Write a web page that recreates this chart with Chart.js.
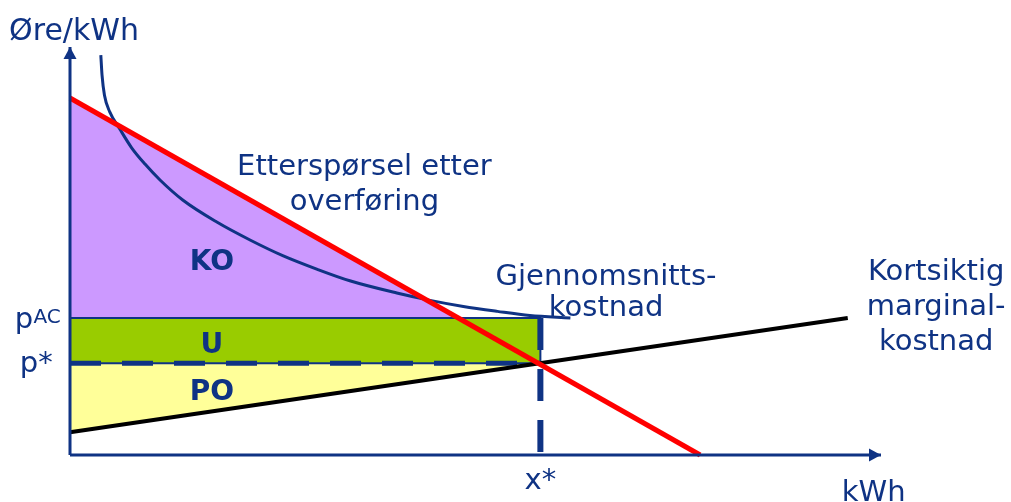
<!DOCTYPE html>
<html>
<head>
<meta charset="utf-8">
<script src="https://cdn.jsdelivr.net/npm/chart.js@4"></script>
<style>
  body { margin: 0; background: #fff; }
  canvas { display: block; }
</style>
</head>
<body>
<canvas id="chart" width="1011" height="502"></canvas>
<script>
// values (x: kWh, y: øre/kWh, both on a 0-100 scale)
const demandX = [0, 77.7];
const demandY = [87.5, 0];
const mcX = [0, 95.9];
const mcY = [5.6, 33.6];
const acX = [3.8, 3.95, 4.25, 4.9, 6.2, 7.6, 9.25, 11.1, 13.9, 18.1, 22.2, 26.3, 30.5, 34.5, 40.3, 44.4, 48.5, 52.7, 56.7, 61.7];
const acY = [98.0, 93.1, 88.2, 84.1, 79.7, 75.3, 71.3, 67.4, 62.5, 57.1, 52.7, 48.8, 45.5, 42.7, 39.7, 37.9, 36.4, 35.2, 34.2, 33.6];
const xStar = 58;
const pStar = 22.5;
const pAC = 33.6;
const demandAtPAC = 47.9;

const navy = '#0f3384';

const pts = (xs, ys) => xs.map((x, i) => ({ x: x, y: ys[i] }));

const koShape = pts([0, demandAtPAC, 0, 0], [demandY[0], pAC, pAC, demandY[0]]);
const uShape = pts([0, xStar, xStar, 0, 0], [pStar, pStar, pAC, pAC, pStar]);
const poShape = pts([0, xStar, 0, 0], [pStar, pStar, mcY[0], pStar]);

const labels = [
    { text: 'Øre/kWh', x: 0.5, y: 101.7, size: 30 },
    { text: 'Etterspørsel etter', x: 36.3, y: 68.6 },
    { text: 'overføring', x: 36.3, y: 60.0 },
    { text: 'KO', x: 17.5, y: 45.3, bold: true },
    { text: 'U', x: 17.5, y: 25.0, bold: true },
    { text: 'PO', x: 17.5, y: 13.5, bold: true },
    { text: 'Gjennomsnitts-', x: 66.1, y: 41.7 },
    { text: 'kostnad', x: 66.1, y: 34.1 },
    { text: 'Kortsiktig', x: 106.8, y: 42.9 },
    { text: 'marginal-', x: 106.8, y: 34.3 },
    { text: 'kostnad', x: 106.8, y: 25.7 },
    { text: 'p', x: -6.8, y: 31.1, align: 'left' },
    { text: 'AC', x: -4.5, y: 32.4, align: 'left', size: 20 },
    { text: 'p*', x: -6.2, y: 20.3, align: 'left' },
    { text: 'x*', x: xStar, y: -8.3 },
    { text: 'kWh', x: 99.1, y: -11.3 }
];

const overlay = {
    id: 'overlay',
    afterDatasetsDraw(chart) {
        const ctx = chart.ctx;
        const sx = chart.scales.x, sy = chart.scales.y;
        const x0 = sx.getPixelForValue(0), y0 = sy.getPixelForValue(0);
        const xTip = sx.getPixelForValue(100), yTip = sy.getPixelForValue(100);
        ctx.save();
        ctx.fillStyle = navy;
        // arrow heads
        ctx.beginPath();
        ctx.moveTo(x0, yTip);
        ctx.lineTo(x0 - 6.5, yTip + 12);
        ctx.lineTo(x0 + 6.5, yTip + 12);
        ctx.closePath();
        ctx.fill();
        ctx.beginPath();
        ctx.moveTo(xTip, y0);
        ctx.lineTo(xTip - 12, y0 - 6.5);
        ctx.lineTo(xTip - 12, y0 + 6.5);
        ctx.closePath();
        ctx.fill();

        ctx.textBaseline = 'alphabetic';
        labels.forEach(l => {
            const size = l.size || (l.bold ? 28 : 29);
            ctx.font = (l.bold ? 'bold ' : '') + size + 'px "DejaVu Sans", Verdana, sans-serif';
            ctx.textAlign = l.align || 'center';
            ctx.fillText(l.text, sx.getPixelForValue(l.x), sy.getPixelForValue(l.y));
        });
        ctx.restore();
    }
};

new Chart(document.getElementById('chart'), {
    type: 'scatter',
    data: {
        datasets: [
            { data: koShape, showLine: true, fill: 'shape', backgroundColor: '#cc99ff', borderWidth: 0, order: 9 },
            { data: poShape, showLine: true, fill: 'shape', backgroundColor: '#ffff99', borderWidth: 0, order: 9 },
            { data: uShape, showLine: true, fill: 'shape', backgroundColor: '#99cc00', borderColor: navy, borderWidth: 2, order: 8 },
            { data: pts(acX, acY), showLine: true, borderColor: navy, borderWidth: 3, cubicInterpolationMode: 'monotone', order: 6 },
            { data: pts([0, xStar], [pStar, pStar]), showLine: true, borderColor: navy, borderWidth: 5, borderDash: [31, 21], borderCapStyle: 'butt', order: 5 },
            { data: pts([xStar, xStar], [pAC, 0]), showLine: true, borderColor: navy, borderWidth: 6, borderDash: [32, 19], borderCapStyle: 'butt', order: 5 },
            { data: pts(mcX, mcY), showLine: true, borderColor: '#000000', borderWidth: 4, order: 4 },
            { data: pts(demandX, demandY), showLine: true, borderColor: '#ff0000', borderWidth: 5, order: 3 },
            { data: pts([0, 0], [0, 100]), showLine: true, borderColor: navy, borderWidth: 3, order: 2 },
            { data: pts([0, 100], [0, 0]), showLine: true, borderColor: navy, borderWidth: 3, order: 2 }
        ].map(d => Object.assign({ pointRadius: 0, pointHoverRadius: 0, clip: false, tension: 0 }, d))
    },
    options: {
        responsive: false,
        animation: false,
        events: [],
        layout: { padding: { left: 70, right: 130, top: 47, bottom: 47 } },
        scales: {
            x: { type: 'linear', min: 0, max: 100, display: false },
            y: { type: 'linear', min: 0, max: 100, display: false }
        },
        plugins: {
            legend: { display: false },
            tooltip: { enabled: false }
        }
    },
    plugins: [overlay]
});
</script>
</body>
</html>
